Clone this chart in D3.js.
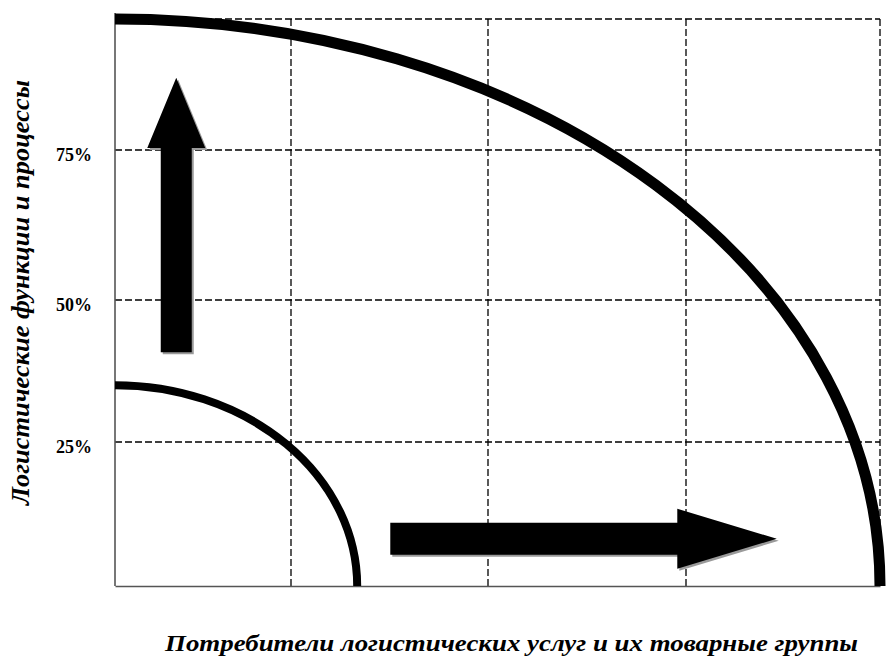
<!DOCTYPE html>
<html lang="ru">
<head>
<meta charset="UTF-8">
<title>Логистические функции и потребители</title>
<script src="https://d3js.org/d3.v7.min.js"></script>
<style>
  body { margin: 0; background: #fff; }
  .grid line { stroke: #000; stroke-width: 1.3; stroke-dasharray: 7,3; }
  .title { font-family: "Liberation Serif", serif; font-weight: bold; font-style: italic; fill: #000; }
</style>
</head>
<body>
<div id="chart"></div>
<script>
// grid positions (percent) - the original sketch is not evenly spaced
const gridValues = [0, 25, 50, 75, 100];
const yTicks = [25, 50, 75];
const yTickLabels = ["25%", "50%", "75%"];

// quarter ellipses from the origin (radius in axis units)
const curveRx = [100, 33.4];
const curveRy = [100, 35];

// arrows: start, end (tip), and where the head begins
const arrowFrom = [[8.7, 40.8], [37.6, 8.2]];
const arrowTo = [[8.7, 88.8], [86.7, 8.2]];
const arrowNeck = [75.4, 73.9];

const xTitle = "Потребители логистических услуг и их товарные группы";
const yTitle = "Логистические функции и процессы";

const W = 886, H = 658;
const svg = d3.select("#chart").append("svg")
  .attr("width", W).attr("height", H);

// piecewise scales to follow the hand drawn grid
const x = d3.scaleLinear().domain(gridValues).range([115, 291, 488, 686, 880]);
const y = d3.scaleLinear().domain(gridValues).range([586, 442, 300, 150, 19]);

// dashed grid
const grid = svg.append("g").attr("class", "grid");
grid.selectAll(".h").data(gridValues.slice(1)).enter().append("line")
  .attr("class", "h")
  .attr("x1", x(0)).attr("x2", x(100))
  .attr("y1", d => y(d)).attr("y2", d => y(d));
grid.selectAll(".v").data(gridValues.slice(1)).enter().append("line")
  .attr("class", "v")
  .attr("y1", y(0)).attr("y2", y(100))
  .attr("x1", d => x(d)).attr("x2", d => x(d));

// axes: solid left and bottom lines
svg.append("g")
  .attr("transform", `translate(${x(0)},0)`)
  .call(d3.axisLeft(y).tickValues(yTicks).tickSize(0).tickPadding(23)
    .tickFormat((d, i) => yTickLabels[i]))
  .call(g => g.select(".domain").attr("stroke", "#555").attr("stroke-width", 1.6)
    .attr("d", `M0,${y(0)}V${y(100) - 6}`))
  .call(g => g.selectAll("text")
    .attr("dy", "0.6em")
    .style("font-family", "'Liberation Serif', serif")
    .style("font-weight", "bold")
    .style("font-size", "18px")
    .style("fill", "#000"));

svg.append("g")
  .attr("transform", `translate(0,${y(0)})`)
  .call(d3.axisBottom(x).tickValues([]).tickSize(0))
  .call(g => g.select(".domain").attr("stroke", "#555").attr("stroke-width", 1.6));

// quarter ellipse curves
const curveWidth = [11, 8];
svg.selectAll(".curve").data(curveRx).enter().append("path")
  .attr("class", "curve")
  .attr("fill", "none")
  .attr("stroke", "#000")
  .attr("stroke-width", (d, i) => curveWidth[i])
  .attr("d", (d, i) => {
    const rx = x(curveRx[i]) - x(0);
    const ry = y(0) - y(curveRy[i]);
    return `M${x(0)},${y(0) - ry}A${rx},${ry} 0 0 1 ${x(0) + rx},${y(0)}`;
  });

// block arrows
const shaftW = [31, 32], headW = [58, 60];
function arrowPath(i) {
  const [fx, fy] = arrowFrom[i], [tx, ty] = arrowTo[i];
  const s = shaftW[i] / 2, h = headW[i] / 2;
  if (fx === tx) { // vertical
    const cx = x(fx), b = y(fy), n = y(arrowNeck[i]), t = y(ty);
    return `M${cx - s},${b}L${cx - s},${n}L${cx - h},${n}L${cx},${t}L${cx + h},${n}L${cx + s},${n}L${cx + s},${b}Z`;
  }
  const cy = y(fy), b = x(fx), n = x(arrowNeck[i]), t = x(tx);
  return `M${b},${cy - s}L${n},${cy - s}L${n},${cy - h}L${t},${cy}L${n},${cy + h}L${n},${cy + s}L${b},${cy + s}Z`;
}
const arrows = svg.append("g");
arrows.selectAll(".shadow").data(arrowFrom).enter().append("path")
  .attr("fill", "#9a9a9a")
  .attr("transform", "translate(2,2)")
  .attr("d", (d, i) => arrowPath(i));
arrows.selectAll(".arrow").data(arrowFrom).enter().append("path")
  .attr("fill", "#000")
  .attr("d", (d, i) => arrowPath(i));

// axis titles
svg.append("text")
  .attr("class", "title")
  .attr("x", 165).attr("y", 651)
  .attr("font-size", 24)
  .attr("textLength", 693)
  .attr("lengthAdjust", "spacingAndGlyphs")
  .text(xTitle);

svg.append("text")
  .attr("class", "title")
  .attr("transform", "translate(29,505) rotate(-90)")
  .attr("font-size", 26)
  .attr("textLength", 425)
  .attr("lengthAdjust", "spacingAndGlyphs")
  .text(yTitle);
</script>
</body>
</html>
